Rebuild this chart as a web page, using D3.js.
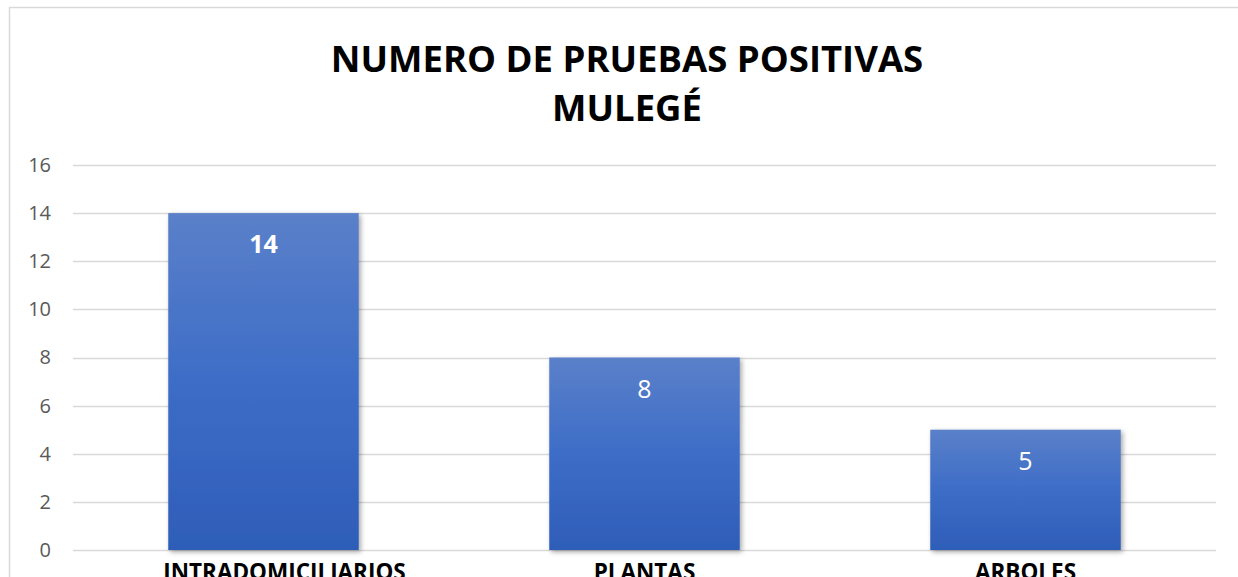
<!DOCTYPE html>
<html>
<head>
<meta charset="utf-8">
<script src="https://cdn.jsdelivr.net/npm/d3@7"></script>
<style>
  body { margin: 0; background: #fff; overflow: hidden; }
  svg { display: block; }
</style>
</head>
<body>
<svg id="chart"></svg>
<script>
const categories = ["INTRADOMICILIARIOS", "PLANTAS", "ARBOLES"]
const values = [14, 8, 5]
const boldLabel = [true, false, false]
const yTicks = [0, 2, 4, 6, 8, 10, 12, 14, 16]
const titleLines = ["NUMERO DE PRUEBAS POSITIVAS", "MULEGÉ"]

const W = 1238, H = 577
const margin = { left: 73, right: 22, top: 165, bottom: 27 }

const svg = d3.select("#chart").attr("width", W).attr("height", H)

const defs = svg.append("defs")
const grad = defs.append("linearGradient")
    .attr("id", "barGrad").attr("x1", 0).attr("y1", 0).attr("x2", 0).attr("y2", 1)
grad.append("stop").attr("offset", "0%").attr("stop-color", "#5b80c9")
grad.append("stop").attr("offset", "50%").attr("stop-color", "#3d6dc7")
grad.append("stop").attr("offset", "100%").attr("stop-color", "#2e5db8")

const shadow = defs.append("filter").attr("id", "shadow")
    .attr("x", "-10%").attr("y", "-10%").attr("width", "130%").attr("height", "130%")
shadow.append("feDropShadow")
    .attr("dx", 2).attr("dy", 2).attr("stdDeviation", 2.5)
    .attr("flood-color", "#000").attr("flood-opacity", 0.35)

// outer chart border
svg.append("rect")
    .attr("x", 9.5).attr("y", 7.5).attr("width", W + 10).attr("height", H + 10)
    .attr("fill", "none").attr("stroke", "#d9d9d9").attr("stroke-width", 1.5)

const x = d3.scaleBand()
    .domain(categories)
    .range([margin.left, W - margin.right])
    .paddingInner(0.5).paddingOuter(0.25)

const y = d3.scaleLinear()
    .domain([0, 16])
    .range([H - margin.bottom, margin.top])

// gridlines
svg.append("g").selectAll("line")
    .data(yTicks)
    .enter()
    .append("line")
    .attr("x1", margin.left).attr("x2", W - margin.right)
    .attr("y1", d => Math.round(y(d)) + 0.5).attr("y2", d => Math.round(y(d)) + 0.5)
    .attr("stroke", "#d9d9d9").attr("stroke-width", 1.5)

// y axis labels
const yAxis = d3.axisLeft(y).tickValues(yTicks).tickSize(0).tickPadding(0)
const gy = svg.append("g")
    .attr("transform", `translate(51,0)`)
    .call(yAxis)
gy.select(".domain").remove()
gy.selectAll("text")
    .attr("font-family", "'Open Sans', sans-serif")
    .attr("font-size", 20)
    .attr("fill", "#595959")

// bars
svg.append("g").selectAll("rect")
    .data(values)
    .enter()
    .append("rect")
    .attr("x", (d, i) => x(categories[i]))
    .attr("y", d => y(d))
    .attr("width", x.bandwidth())
    .attr("height", d => y(0) - y(d))
    .attr("fill", "url(#barGrad)")
    .attr("filter", "url(#shadow)")

// data labels
svg.append("g").selectAll("text")
    .data(values)
    .enter()
    .append("text")
    .attr("x", (d, i) => x(categories[i]) + x.bandwidth() / 2)
    .attr("y", d => y(d) + 40)
    .attr("text-anchor", "middle")
    .attr("font-family", "'Open Sans', sans-serif")
    .attr("font-size", 25)
    .attr("font-weight", (d, i) => boldLabel[i] ? "bold" : "normal")
    .attr("fill", "#fff")
    .text(d => d)

// category labels (the bottom edge clips them, as in the original)
// the first one sits a bit right of its bar in the original
svg.append("g").selectAll("text")
    .data(categories)
    .enter()
    .append("text")
    .attr("x", d => x(d) + x.bandwidth() / 2)
    .attr("dx", (d, i) => i === 0 ? 21 : 0)
    .attr("y", 580)
    .attr("text-anchor", "middle")
    .attr("font-family", "'Open Sans', sans-serif")
    .attr("font-size", 22.5)
    .attr("font-weight", "bold")
    .attr("fill", "#000")
    .text(d => d)

// title
svg.append("g").selectAll("text")
    .data(titleLines)
    .enter()
    .append("text")
    .attr("x", 627)
    .attr("y", (d, i) => 72 + i * 49)
    .attr("text-anchor", "middle")
    .attr("font-family", "'Open Sans', sans-serif")
    .attr("font-size", 36.5)
    .attr("font-weight", "bold")
    .attr("fill", "#000")
    .text(d => d)
</script>
</body>
</html>
